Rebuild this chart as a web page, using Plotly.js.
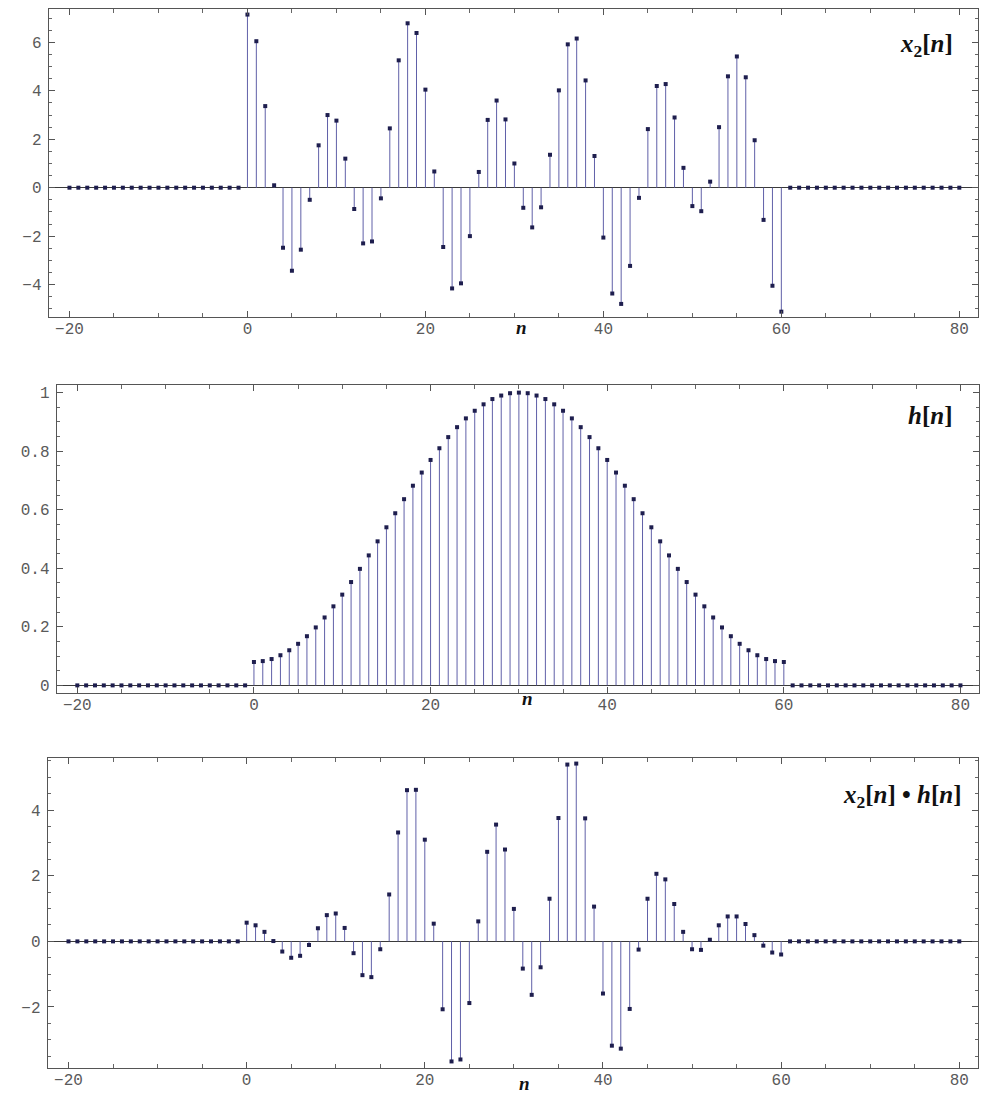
<!DOCTYPE html>
<html>
<head>
<meta charset="utf-8">
<script src="https://cdn.plot.ly/plotly-3.0.1.min.js"></script>
<style>html,body{margin:0;padding:0;background:#fff;}#chart{width:985px;height:1101px;}</style>
</head>
<body>
<div id="chart"></div>
<script>
// sample index n = -20 .. 80
const n = [-20,-19,-18,-17,-16,-15,-14,-13,-12,-11,-10,-9,-8,-7,-6,-5,-4,-3,-2,-1,
  0,1,2,3,4,5,6,7,8,9,10,11,12,13,14,15,16,17,18,19,20,21,22,23,24,25,26,27,28,29,30,
  31,32,33,34,35,36,37,38,39,40,41,42,43,44,45,46,47,48,49,50,51,52,53,54,55,56,57,58,59,60,
  61,62,63,64,65,66,67,68,69,70,71,72,73,74,75,76,77,78,79,80];

// x2[n]
const x2 = [0,0,0,0,0,0,0,0,0,0,0,0,0,0,0,0,0,0,0,0,
  7.15,6.05,3.37,0.10,-2.48,-3.43,-2.56,-0.50,1.75,3.00,2.77,1.20,-0.88,-2.30,-2.22,-0.44,
  2.45,5.26,6.79,6.39,4.05,0.67,-2.45,-4.16,-3.95,-2.00,0.65,2.80,3.60,2.82,1.00,
  -0.83,-1.64,-0.81,1.36,4.02,5.92,6.16,4.43,1.31,-2.06,-4.37,-4.80,-3.23,-0.42,2.42,
  4.20,4.28,2.90,0.82,-0.76,-0.97,0.25,2.50,4.60,5.42,4.56,1.96,-1.33,-4.05,-5.12,
  0,0,0,0,0,0,0,0,0,0,0,0,0,0,0,0,0,0,0,0];

// h[n]
const h = [0,0,0,0,0,0,0,0,0,0,0,0,0,0,0,0,0,0,0,0,
  0.080,0.083,0.090,0.103,0.120,0.142,0.168,0.198,0.232,0.270,0.310,0.353,0.398,0.444,0.492,0.540,
  0.588,0.636,0.682,0.727,0.770,0.810,0.848,0.882,0.912,0.938,0.960,0.978,0.990,0.998,1.000,
  0.998,0.990,0.978,0.960,0.938,0.912,0.882,0.848,0.810,0.770,0.727,0.682,0.636,0.588,0.540,
  0.492,0.444,0.398,0.353,0.310,0.270,0.232,0.198,0.168,0.142,0.120,0.103,0.090,0.083,0.080,
  0,0,0,0,0,0,0,0,0,0,0,0,0,0,0,0,0,0,0,0];

// x2[n] • h[n]
const xh = [0,0,0,0,0,0,0,0,0,0,0,0,0,0,0,0,0,0,0,0,
  0.57,0.49,0.29,0.01,-0.31,-0.50,-0.44,-0.11,0.40,0.80,0.85,0.41,-0.36,-1.03,-1.09,-0.24,
  1.43,3.32,4.61,4.62,3.10,0.54,-2.07,-3.66,-3.60,-1.88,0.61,2.73,3.56,2.80,0.99,
  -0.83,-1.63,-0.79,1.30,3.76,5.39,5.42,3.75,1.06,-1.59,-3.18,-3.27,-2.06,-0.25,1.30,
  2.06,1.89,1.14,0.29,-0.24,-0.26,0.05,0.49,0.76,0.76,0.53,0.19,-0.13,-0.34,-0.40,
  0,0,0,0,0,0,0,0,0,0,0,0,0,0,0,0,0,0,0,0];

const panelLabels = ['<b><i>x</i><sub>2</sub>[<i>n</i>]</b>', '<b><i>h</i>[<i>n</i>]</b>',
  '<b><i>x</i><sub>2</sub>[<i>n</i>] \u2022 <i>h</i>[<i>n</i>]</b>'];
const xTitle = '<b><i>n</i></b>';

const STEM = 'rgb(96,96,168)';
const DOT = '#1e1e4e';

function stemTraces(xs, ys, k) {
  const sx = [], sy = [];
  for (let i = 0; i < xs.length; i++) { sx.push(xs[i], xs[i], null); sy.push(0, ys[i], null); }
  const ax = k === 1 ? '' : String(k);
  return [
    {x: sx, y: sy, mode: 'lines', line: {color: STEM, width: 1}, xaxis: 'x' + ax, yaxis: 'y' + ax,
     hoverinfo: 'skip', showlegend: false, connectgaps: false},
    {x: xs, y: ys, mode: 'markers', marker: {color: DOT, size: 4, symbol: 'square'},
     xaxis: 'x' + ax, yaxis: 'y' + ax, showlegend: false}
  ];
}

const tickFont = {family: '"Liberation Mono", "Courier New", monospace', size: 16, color: '#5a5a5a'};
function xAxis(domain, anchor) {
  return {domain: domain, anchor: anchor, range: [-22.3, 82.1], tickvals: [-20,0,20,40,60,80],
    ticks: 'inside', ticklen: 6, tickcolor: '#555', tickwidth: 1, ticklabelstandoff: -4,
    minor: {dtick: 5, tick0: 0, ticks: 'inside', ticklen: 4, tickcolor: '#666', showgrid: false},
    showline: true, linecolor: '#555', linewidth: 1.3, mirror: 'allticks',
    showgrid: false, zeroline: false, tickfont: tickFont, fixedrange: true};
}
function yAxis(domain, anchor, range, dtick, mdtick) {
  return {domain: domain, anchor: anchor, range: range, dtick: dtick, tick0: 0,
    ticks: 'inside', ticklen: 6, tickcolor: '#555', tickwidth: 1, ticklabelstandoff: 3,
    minor: {dtick: mdtick, tick0: 0, ticks: 'inside', ticklen: 3, tickcolor: '#666', showgrid: false},
    showline: true, linecolor: '#555', linewidth: 1.3, mirror: 'allticks',
    showgrid: false, zeroline: true, zerolinecolor: '#3a3a3a', zerolinewidth: 1.3,
    tickfont: tickFont, fixedrange: true};
}

const W = 985, H = 1101;
const dTop = [1 - 317/H, 1 - 9/H], dMid = [1 - 693/H, 1 - 385/H], dBot = [1 - 1068/H, 1 - 758/H];

const data = [].concat(stemTraces(n, x2, 1), stemTraces(n, h, 2), stemTraces(n, xh, 3));

const labelFont = {family: '"Liberation Serif", "Times New Roman", serif', size: 25, color: '#111'};
const nFont = {family: '"Liberation Serif", "Times New Roman", serif', size: 19, color: '#111'};

const layout = {
  width: W, height: H, margin: {l: 0, r: 0, t: 0, b: 0},
  paper_bgcolor: '#fff', plot_bgcolor: '#fff', showlegend: false,
  xaxis: xAxis([49/W, 978/W], 'y'),
  yaxis: yAxis(dTop, 'x', [-5.34, 7.38], 2, 0.5),
  xaxis2: xAxis([57/W, 979/W], 'y2'),
  yaxis2: yAxis(dMid, 'x2', [-0.026, 1.026], 0.2, 0.05),
  xaxis3: xAxis([48/W, 978/W], 'y3'),
  yaxis3: yAxis(dBot, 'x3', [-3.86, 5.59], 2, 0.5),
  annotations: [
    {text: panelLabels[0], xref: 'paper', yref: 'paper', x: 955/W, y: 1 - 46/H, xanchor: 'right', yanchor: 'middle', showarrow: false, font: labelFont},
    {text: panelLabels[1], xref: 'paper', yref: 'paper', x: 954/W, y: 1 - 415/H, xanchor: 'right', yanchor: 'middle', showarrow: false, font: labelFont},
    {text: panelLabels[2], xref: 'paper', yref: 'paper', x: 964/W, y: 1 - 796/H, xanchor: 'right', yanchor: 'middle', showarrow: false, font: labelFont},
    {text: xTitle, xref: 'paper', yref: 'paper', x: 521/W, y: 1 - 328/H, xanchor: 'center', yanchor: 'middle', showarrow: false, font: nFont},
    {text: xTitle, xref: 'paper', yref: 'paper', x: 527/W, y: 1 - 698/H, xanchor: 'center', yanchor: 'middle', showarrow: false, font: nFont},
    {text: xTitle, xref: 'paper', yref: 'paper', x: 524/W, y: 1 - 1083/H, xanchor: 'center', yanchor: 'middle', showarrow: false, font: nFont}
  ]
};

Plotly.newPlot('chart', data, layout, {staticPlot: true, displayModeBar: false});
</script>
</body>
</html>
